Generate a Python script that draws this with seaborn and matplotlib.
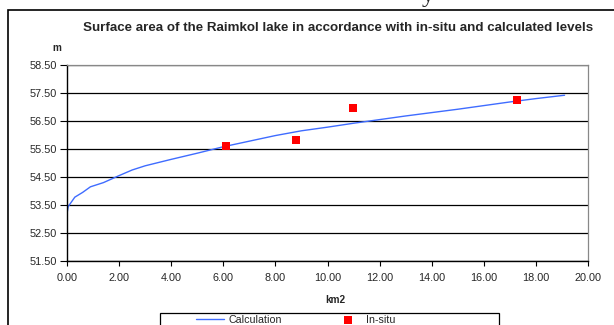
import matplotlib
matplotlib.use("Agg")
import matplotlib.pyplot as plt
import matplotlib.patches as mpatches
import seaborn as sns

# Calculated level curve (area km2 -> level m)
calc_area = [0.0, 0.05, 0.3, 0.6, 0.9, 1.4, 2.0, 2.5, 3.0, 4.0, 5.0, 6.0, 7.0,
             8.0, 9.0, 10.0, 11.0, 12.0, 13.0, 14.0, 15.0, 16.0, 17.0, 18.0, 19.1]
calc_level = [53.2, 53.45, 53.78, 53.95, 54.15, 54.3, 54.55, 54.75, 54.9, 55.13,
              55.35, 55.58, 55.78, 55.98, 56.15, 56.28, 56.42, 56.55, 56.68,
              56.8, 56.92, 57.05, 57.18, 57.3, 57.42]

# In-situ measurements
insitu_area = [6.10, 8.79, 10.98, 17.27]
insitu_level = [55.61, 55.82, 56.96, 57.25]

x_ticks = [0, 2, 4, 6, 8, 10, 12, 14, 16, 18, 20]
y_ticks = [51.5, 52.5, 53.5, 54.5, 55.5, 56.5, 57.5, 58.5]

sns.set_style("white")
plt.rcParams["font.family"] = ["Liberation Sans", "DejaVu Sans"]

W, H = 614, 325
fig = plt.figure(figsize=(W / 100, H / 100), dpi=100)


def px(x0, y0, x1, y1):
    return [x0 / W, 1 - y1 / H, (x1 - x0) / W, (y1 - y0) / H]


ax = fig.add_axes(px(67, 65, 588, 261))

sns.lineplot(x=calc_area, y=calc_level, ax=ax, color="#3f6cff", linewidth=1.0,
             label="Calculation", legend=False)
sns.scatterplot(x=insitu_area, y=insitu_level, ax=ax, color="#ff0000", marker="s",
                s=34, edgecolor="none", label="In-situ", legend=False, zorder=5)

ax.set_xlim(0, 20)
ax.set_ylim(51.5, 58.5)
ax.set_xticks(x_ticks)
ax.set_yticks(y_ticks)
ax.set_xticklabels([f"{v:.2f}" for v in x_ticks], fontsize=7.8)
ax.set_yticklabels([f"{v:.2f}" for v in y_ticks], fontsize=7.8)
ax.tick_params(axis="y", direction="out", length=5, width=0.8, color="black",
               left=True, pad=2.5)
ax.tick_params(axis="x", direction="out", length=3.5, width=0.8, color="black",
               bottom=True, pad=5)
ax.grid(axis="y", color="black", linewidth=0.9)
ax.set_axisbelow(True)
for side in ["left", "bottom"]:
    ax.spines[side].set_color("black")
    ax.spines[side].set_linewidth(1.0)
for side in ["top", "right"]:
    ax.spines[side].set_color("#888888")
    ax.spines[side].set_linewidth(0.9)
ax.set_xlabel("")
ax.set_ylabel("")

fig.text(338 / W, 1 - 28 / H, "Surface area of the Raimkol lake in accordance with in-situ and calculated levels",
         ha="center", va="center", fontsize=9.6, fontweight="bold")
fig.text(57 / W, 1 - 48 / H, "m", ha="center", va="center", fontsize=7.2, fontweight="bold")
fig.text(335 / W, 1 - 300 / H, "km2", ha="center", va="center", fontsize=7.2, fontweight="bold")

# fragment of page text above the chart
fig.text(428 / W, 1 - 2 / H, "y", ha="center", va="baseline", fontsize=18,
         family=["Liberation Serif", "DejaVu Serif"])

# outer chart border
fig.patches.append(mpatches.Rectangle((8 / W, -0.1), 1.0, 1 - 10 / H + 0.1,
                                      transform=fig.transFigure, fill=False,
                                      edgecolor="black", linewidth=1.2))

# legend box (cut by the lower edge)
fig.patches.append(mpatches.Rectangle((160 / W, -0.1), 339 / W, 0.1 + 1 - 313 / H,
                                      transform=fig.transFigure, fill=False,
                                      edgecolor="black", linewidth=0.9))

handles, labels = ax.get_legend_handles_labels()
leg = fig.legend(handles, labels, loc="upper left", ncol=2,
                 bbox_to_anchor=(196 / W, 1 - 315 / H),
                 fontsize=7.7, frameon=False, handlelength=2.6,
                 handletextpad=0.4, columnspacing=4.9,
                 borderpad=0, borderaxespad=0)

fig.savefig("out.png", dpi=100)
